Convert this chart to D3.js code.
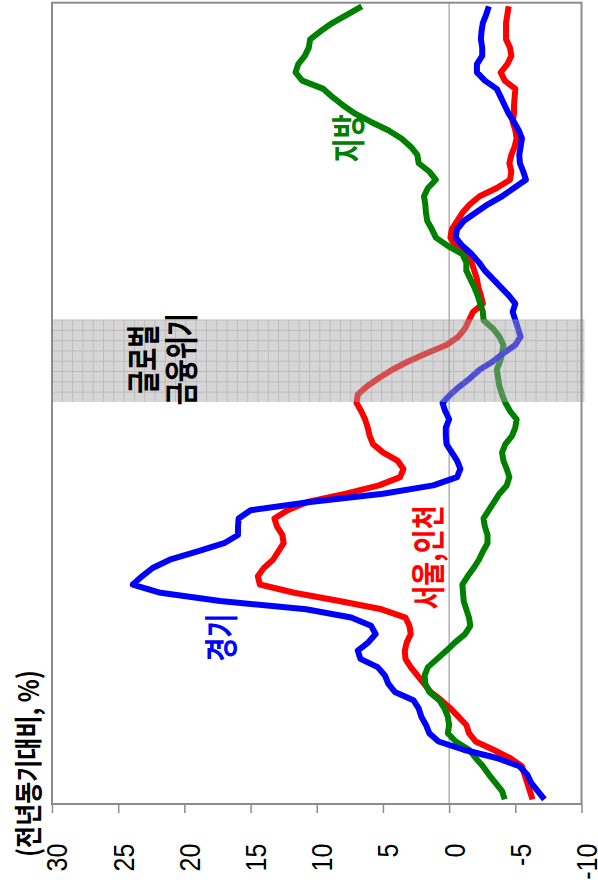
<!DOCTYPE html>
<html><head><meta charset="utf-8">
<script src="https://cdn.jsdelivr.net/npm/d3@7"></script>
<style>html,body{margin:0;padding:0;background:#fff;} svg{display:block;}</style>
</head><body>
<svg id="chart" width="598" height="887"></svg>
<script>
// ---- data (monthly, year-on-year %) ----
const seriesNames = ["서울,인천", "경기", "지방"];
const seoulIncheon = [
  -6.3, -6.1, -5.9, -5.7, -5.5, -4.6, -3.35, -2.0, -1.5, -1.3,
  -0.7, -0.1, 0.6, 1.4, 1.9, 2.4, 2.9, 3.3, 3.35, 3.2,
  2.9, 3.0, 3.3, 5.1, 8.3, 11.7, 14.3, 14.45, 14.0, 13.3,
  12.9, 12.5, 12.6, 13.0, 13.2, 12.2, 10.7, 7.8, 5.3, 3.7,
  3.45, 3.9, 5.0, 5.75, 6.0, 6.15, 6.35, 6.65, 7.0, 6.9,
  6.2, 5.3, 4.3, 3.1, 1.7, 0.2, -0.7, -1.2, -1.5, -1.8,
  -2.55, -2.4, -2.2, -2.1, -1.9, -1.7, -1.1, -0.45, -0.1, -0.2,
  -0.6, -1.0, -1.55, -2.3, -3.6, -4.6, -4.7, -4.55, -4.7, -4.95,
  -5.1, -5.0, -4.8, -4.9, -4.9, -4.95, -5.0, -4.2, -3.9, -4.4,
  -4.7, -4.6, -4.3, -4.3, -4.3, -4.4, -4.5
];
const gyeonggi = [
  -7.2, -6.7, -6.2, -5.9, -5.3, -3.6, -1.1, 0.8, 1.5, 1.75,
  2.1, 2.3, 2.7, 4.1, 4.6, 4.85, 5.4, 6.7, 6.9, 6.1,
  5.55, 5.9, 7.4, 10.8, 17.3, 21.8, 23.9, 23.2, 22.4, 21.1,
  19.0, 17.0, 15.95, 15.95, 15.9, 15.0, 10.5, 5.0, 1.2, -0.6,
  -0.85, -0.6, -0.2, 0.2, 0.25, 0.25, 0.0, 0.3, 0.5, -0.1,
  -0.8, -1.6, -2.3, -3.3, -4.1, -5.0, -5.4, -5.2, -5.0, -4.8,
  -5.0, -4.5, -3.9, -3.3, -2.7, -2.25, -1.7, -1.0, -0.5, -0.6,
  -1.1, -2.0, -2.9, -4.0, -4.9, -5.8, -5.6, -5.35, -5.3, -5.4,
  -5.5, -5.25, -4.9, -4.5, -4.2, -3.9, -3.6, -2.7, -2.1, -2.1,
  -2.5, -2.5, -2.4, -2.45, -2.55, -2.8, -3.0
];
const provinces = [
  -4.2, -4.0, -3.5, -3.0, -2.55, -2.0, -1.5, -0.5, 0.1, 0.0,
  0.1, 0.35, 0.75, 1.5, 1.8, 1.85, 1.6, 0.9, 0.2, -0.45,
  -1.2, -1.6, -1.5, -1.3, -1.1, -1.05, -1.0, -1.4, -1.85, -2.25,
  -2.55, -2.9, -2.9, -2.7, -2.6, -3.0, -3.4, -3.8, -4.35, -4.55,
  -4.35, -4.1, -4.0, -4.25, -4.75, -5.0, -5.1, -4.6, -4.25, -4.0,
  -3.8, -3.7, -3.6, -3.85, -4.0, -4.1, -3.8, -3.3, -2.6, -2.55,
  -2.35, -2.15, -1.9, -1.6, -1.3, -1.3, -1.0, 0.1, 1.0, 1.3,
  1.65, 1.75, 1.8, 1.9, 1.6, 1.0, 1.5, 2.3, 2.4, 2.9,
  3.6, 4.6, 5.9, 7.1, 8.0, 8.8, 9.5, 11.1, 11.6, 11.4,
  10.9, 10.6, 10.5, 9.7, 8.8, 7.7, 6.6
];
const periodIndex = d3.range(gyeonggi.length);
const yTicks = [30, 25, 20, 15, 10, 5, 0, -5, -10];
const crisisPeriod = [48.1, 58.1];
const crisisLabel = ["글로벌", "금융위기"];
const unitLabel = "(전년동기대비, %)";

// ---- layout (chart drawn unrotated, then rotated -90deg) ----
const svg = d3.select("#chart");
const defs = svg.append("defs");
const pat = defs.append("pattern").attr("id", "crisisGrid")
  .attr("patternUnits", "userSpaceOnUse").attr("width", 10.3).attr("height", 10.3);
pat.append("rect").attr("width", 10.3).attr("height", 10.3).attr("fill", "#a6a6a6").attr("fill-opacity", 0.46);
pat.append("path").attr("d", "M0,0.5H10.3M0.5,0V10.3").attr("stroke", "#888888").attr("stroke-opacity", 0.35).attr("stroke-width", 1);

const g = svg.append("g").attr("transform", "translate(0,887) rotate(-90)");
const plot = {left: 83, right: 884.3, top: 52, bottom: 581.5};
const x = d3.scaleLinear().domain([0, periodIndex.length - 1]).range([87.7, 880.7]);
const y = d3.scaleLinear().domain([-10, 30]).range([581.5, 52]);

// zero line
g.append("line").attr("x1", plot.left).attr("x2", plot.right)
  .attr("y1", y(0)).attr("y2", y(0)).attr("stroke", "#8a8a8a").attr("stroke-width", 1);

// series lines
const line = d3.line().x((d, i) => x(periodIndex[i])).y(d => y(d));
const series = [
  {name: seriesNames[0], values: seoulIncheon, color: "#ff0000"},
  {name: seriesNames[2], values: provinces, color: "#008000"},
  {name: seriesNames[1], values: gyeonggi, color: "#0000ff"}
];
g.selectAll("path.series").data(series).enter().append("path")
  .attr("class", "series").attr("d", d => line(d.values))
  .attr("fill", "none").attr("stroke", d => d.color)
  .attr("stroke-width", 6).attr("stroke-linejoin", "round");

// crisis band (over the lines)
g.append("rect").attr("x", x(crisisPeriod[0])).attr("width", x(crisisPeriod[1]) - x(crisisPeriod[0]))
  .attr("y", y(30)).attr("height", 584.5 - y(30)).attr("fill", "url(#crisisGrid)");

// frame
g.append("rect").attr("x", plot.left).attr("y", plot.top)
  .attr("width", plot.right - plot.left).attr("height", plot.bottom - plot.top)
  .attr("fill", "none").attr("stroke", "#8c8c8c").attr("stroke-width", 2);

// value axis
const axis = g.append("g").attr("transform", `translate(${plot.left},0)`)
  .call(d3.axisLeft(y).tickValues(yTicks).tickSize(9).tickFormat(d => String(d)));
axis.select(".domain").remove();
axis.selectAll(".tick line").attr("stroke", "#8c8c8c").attr("stroke-width", 1.5);
axis.selectAll(".tick text").remove();
axis.selectAll(".tick").append("g")
  .attr("transform", `translate(${43.3 - plot.left},4.8) scale(1,1.16)`)
  .append("text").attr("text-anchor", "end").attr("dominant-baseline", "central")
  .attr("font-family", "'Liberation Sans', Arial, sans-serif").attr("font-size", 25)
  .attr("fill", "#000").text(d => String(d));

// unit title
g.append("g").attr("transform", "translate(30,27) scale(1,1.2)")
  .append("text").attr("dominant-baseline", "central")
  .attr("font-family", "'Noto Sans CJK KR', sans-serif").attr("font-weight", "bold")
  .attr("font-size", 24).attr("fill", "#000").text(unitLabel);

// series labels
const labels = [
  {text: seriesNames[1], cx: 249.5, cy: 219, color: "#0000ff"},
  {text: seriesNames[0], cx: 329.5, cy: 426, color: "#ff0000"},
  {text: seriesNames[2], cx: 748.7, cy: 346.7, color: "#008000"}
];
labels.forEach(l => {
  g.append("g").attr("transform", `translate(${l.cx},${l.cy}) scale(1,1.3)`)
    .append("text").attr("text-anchor", "middle").attr("dominant-baseline", "central")
    .attr("font-family", "'Noto Sans CJK KR', sans-serif").attr("font-weight", "bold")
    .attr("font-size", 26).attr("fill", l.color).text(l.text);
});

// crisis label
const cMid = (x(crisisPeriod[0]) + x(crisisPeriod[1])) / 2;
crisisLabel.forEach((t, k) => {
  g.append("g").attr("transform", `translate(${cMid + 1.5},${141.7 + k * 38.3}) scale(1,1.35)`)
    .append("text").attr("text-anchor", "middle").attr("dominant-baseline", "central")
    .attr("font-family", "'Noto Sans CJK KR', sans-serif").attr("font-weight", "bold")
    .attr("font-size", 25).attr("fill", "#000").text(t);
});
</script>
</body></html>
